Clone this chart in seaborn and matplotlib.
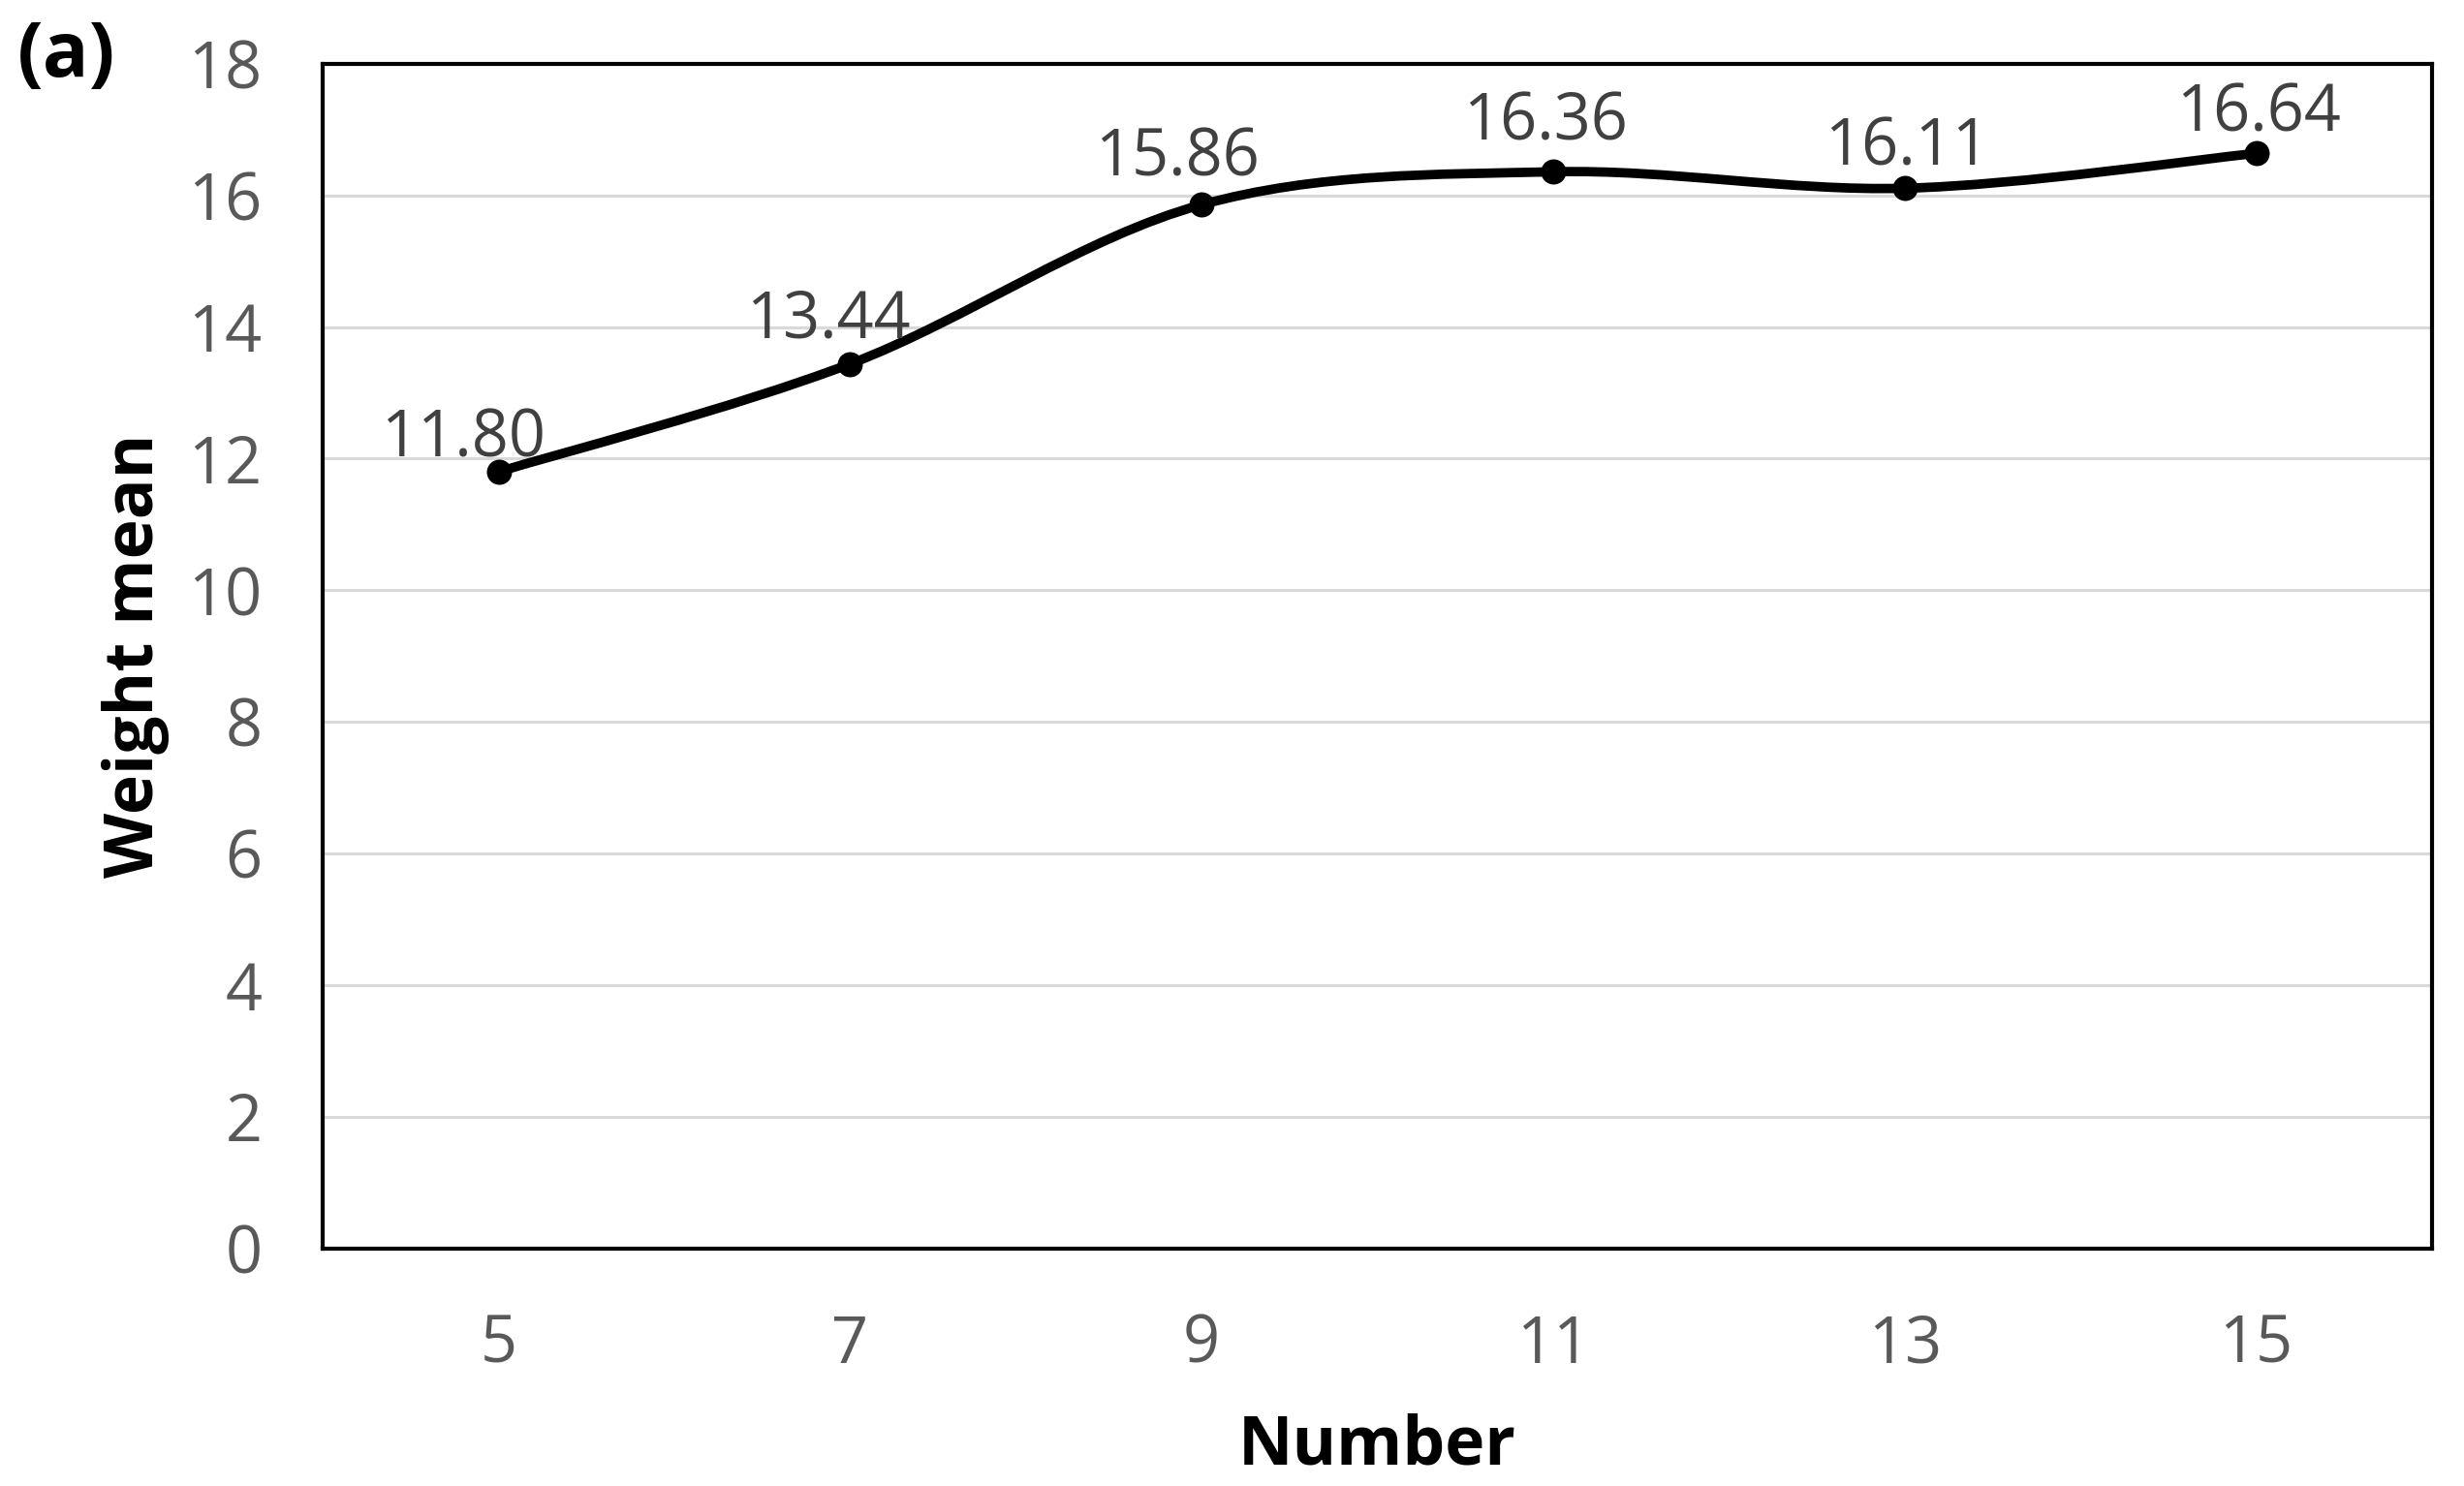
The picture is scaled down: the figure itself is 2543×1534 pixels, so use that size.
import numpy as np
import pandas as pd
import matplotlib
matplotlib.use("Agg")
import matplotlib.pyplot as plt
from matplotlib.path import Path
from matplotlib.patches import PathPatch
import seaborn as sns

# data
numbers = ["5", "7", "9", "11", "13", "15"]
weight_mean = [11.80, 13.44, 15.86, 16.36, 16.11, 16.64]
y_ticks = [0, 2, 4, 6, 8, 10, 12, 14, 16, 18]

# small nudges for the value labels (points), like the excel placement
label_dx = [-26, -16, -18, -6, 2, 2]
label_dy = [0, 8, 10, 12, 6, 5]

df = pd.DataFrame({"Number": numbers, "Weight mean": weight_mean})

sns.set_theme(style="white")
plt.rcParams["font.family"] = ["Open Sans", "DejaVu Sans"]

fig = plt.figure(figsize=(25.43, 15.34), dpi=100)
ax = fig.add_axes([0.131, 0.160, 0.856, 0.797])

# smoothed line like excel (catmull-rom -> bezier)
xs = np.arange(len(weight_mean), dtype=float)
ys = np.array(weight_mean)
px = np.concatenate([[xs[0]], xs, [xs[-1]]])
py = np.concatenate([[ys[0]], ys, [ys[-1]]])
verts = [(xs[0], ys[0])]
codes = [Path.MOVETO]
for i in range(1, len(px) - 2):
    c1 = (px[i] + (px[i + 1] - px[i - 1]) / 6, py[i] + (py[i + 1] - py[i - 1]) / 6)
    c2 = (px[i + 1] - (px[i + 2] - px[i]) / 6, py[i + 1] - (py[i + 2] - py[i]) / 6)
    verts += [c1, c2, (px[i + 1], py[i + 1])]
    codes += [Path.CURVE4] * 3
ax.add_patch(PathPatch(Path(verts, codes), facecolor="none", edgecolor="black",
                       lw=7, capstyle="round", joinstyle="round", zorder=3))

sns.scatterplot(data=df, x="Number", y="Weight mean", color="black", s=300,
                edgecolor="black", zorder=4, ax=ax)

for i, v in enumerate(weight_mean):
    ax.annotate(f"{v:.2f}", (i, v), xytext=(label_dx[i], label_dy[i]),
                textcoords="offset points", ha="center", va="bottom",
                fontsize=48, color="#404040", zorder=5)

ax.set_xlim(-0.5, len(numbers) - 0.5)
ax.set_ylim(0, 18)
ax.set_yticks(y_ticks)
ax.yaxis.grid(True, color="#d9d9d9", lw=2.2)
ax.xaxis.grid(False)
ax.set_axisbelow(True)
for sp in ax.spines.values():
    sp.set_color("black")
    sp.set_linewidth(3)
ax.tick_params(axis="both", length=0, labelsize=48, labelcolor="#595959")
ax.tick_params(axis="y", pad=45)
ax.tick_params(axis="x", pad=48)

ax.set_xlabel("Number", fontsize=50, fontweight="bold", color="black", labelpad=26)
ax.set_ylabel("Weight mean", fontsize=50, fontweight="bold", color="black", labelpad=14)

fig.text(0.007, 0.962, "(a)", fontsize=57, fontweight="bold", color="black",
         ha="left", va="center")

fig.savefig("out.png", dpi=100)
